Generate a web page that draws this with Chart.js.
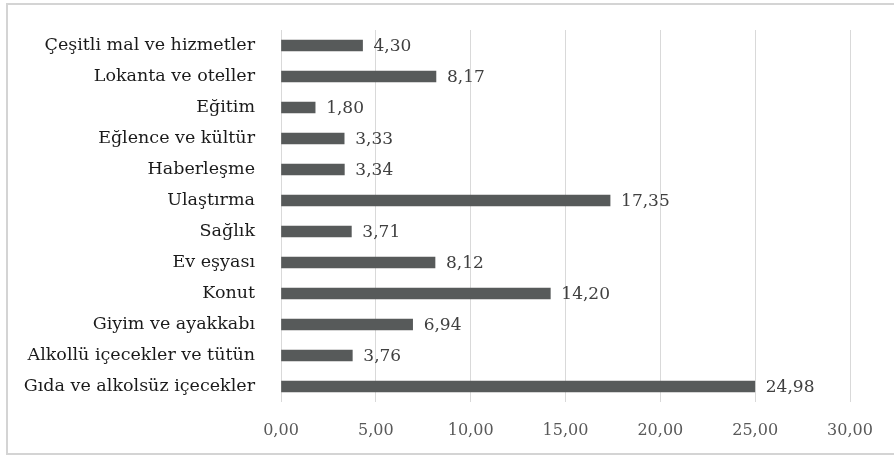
<!DOCTYPE html>
<html>
<head>
<meta charset="utf-8">
<script src="https://cdn.jsdelivr.net/npm/chart.js@4"></script>
<style>
  body { margin: 0; background: #fff; overflow: hidden; }
  #wrap { position: relative; width: 894px; height: 457px; overflow: hidden; }
  #frame { position: absolute; left: 6px; top: 3px; width: 1000px; height: 452px; border: 2px solid #d4d4d4; border-right: none; box-sizing: border-box; }
  canvas { position: absolute; left: 0; top: 0; }
</style>
</head>
<body>
<div id="wrap">
  <div id="frame"></div>
  <canvas id="chart" width="894" height="457"></canvas>
</div>
<script>
const categories = [
  'Çeşitli mal ve hizmetler',
  'Lokanta ve oteller',
  'Eğitim',
  'Eğlence ve kültür',
  'Haberleşme',
  'Ulaştırma',
  'Sağlık',
  'Ev eşyası',
  'Konut',
  'Giyim ve ayakkabı',
  'Alkollü içecekler ve tütün',
  'Gıda ve alkolsüz içecekler'
];
const shares = [4.30, 8.17, 1.80, 3.33, 3.34, 17.35, 3.71, 8.12, 14.20, 6.94, 3.76, 24.98];
const axisMin = 0;
const axisMax = 30;
const axisStep = 5;

const fmt = v => Number(v).toFixed(2).replace('.', ',');

// draws the value next to the end of each bar
const valueLabels = {
  id: 'valueLabels',
  afterDatasetsDraw(chart) {
    const ctx = chart.ctx;
    const meta = chart.getDatasetMeta(0);
    ctx.save();
    ctx.font = '17px "DejaVu Serif"';
    ctx.fillStyle = '#404040';
    ctx.textBaseline = 'middle';
    ctx.textAlign = 'left';
    meta.data.forEach((bar, i) => {
      ctx.fillText(fmt(shares[i]), bar.x + 11, bar.y + 1);
    });
    ctx.restore();
  }
};

new Chart(document.getElementById('chart'), {
  type: 'bar',
  data: {
    labels: categories,
    datasets: [{
      data: shares,
      backgroundColor: '#575a5a',
      barThickness: 11
    }]
  },
  options: {
    indexAxis: 'y',
    responsive: false,
    animation: false,
    layout: { padding: { top: 30, right: 44, bottom: 0, left: 0 } },
    plugins: { legend: { display: false }, tooltip: { enabled: false } },
    scales: {
      x: {
        min: axisMin,
        max: axisMax,
        ticks: {
          stepSize: axisStep,
          callback: v => fmt(v),
          color: '#595959',
          font: { family: 'DejaVu Serif', size: 16 },
          padding: 19,
          maxRotation: 0
        },
        grid: { color: '#d9d9d9', lineWidth: 1, drawTicks: false },
        border: { display: false },
        afterFit(scale) { scale.height = 55; scale.paddingTop = 0; scale.paddingBottom = 0; }
      },
      y: {
        ticks: {
          color: '#1a1a1a',
          font: { family: 'DejaVu Serif', size: 17.5 },
          padding: 26
        },
        grid: { display: false, drawTicks: false },
        border: { display: false },
        afterFit(scale) { scale.width = 281; scale.paddingTop = 0; scale.paddingBottom = 0; }
      }
    }
  },
  plugins: [valueLabels]
});
</script>
</body>
</html>
